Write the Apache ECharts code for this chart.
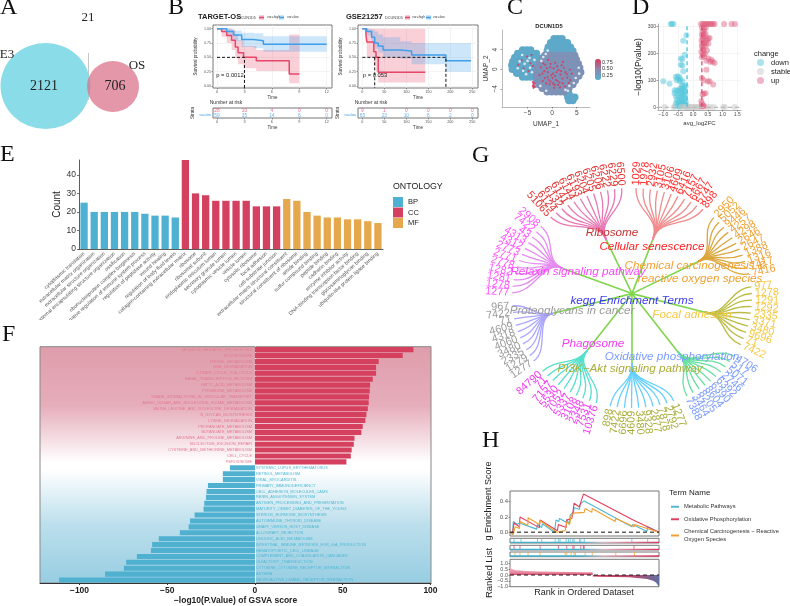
<!DOCTYPE html>
<html><head><meta charset="utf-8">
<script src="https://cdn.jsdelivr.net/npm/echarts@6/dist/echarts.min.js"></script>
<style>html,body{margin:0;padding:0;background:#fff}#c{width:790px;height:606px}</style></head>
<body><div id="c"></div>
<script>
// ---------- A: Venn
const vennSets = ['E3', 'OS'];
const vennCounts = [2121, 21, 706];
// ---------- B: survival
const km1HighT = [0, .5, 1.06, 1.6, 2, 2.3, 2.9, 4.3, 7.9, 9];
const km1HighS = [1, .95, .88, .80, .68, .58, .50, .44, .21, .21];
const km1HighLo = [1, .86, .75, .63, .48, .38, .31, .26, .05, .05];
const km1HighHi = [1, 1, 1, .98, .90, .80, .70, .63, .90, .90];
const km1LowT = [0, 1.06, 1.8, 2.7, 4, 5.07, 12];
const km1LowS = [1, .95, .89, .81, .79, .73, .73];
const km1LowLo = [1, .87, .78, .68, .66, .60, .60];
const km1LowHi = [1, 1, .97, .93, .92, .87, .87];
const km2HighT = [0, 8, 10, 26, 31, 36, 143];
const km2HighS = [1, .9, .77, .60, .50, .24, .24];
const km2HighLo = [1, .8, .5, .35, .25, .06, .06];
const km2HighHi = [1, 1, 1, 1, 1, 1, 1];
const km2LowT = [0, 10, 21, 28, 36, 47, 86, 112, 190, 247];
const km2LowS = [1, .95, .85, .75, .70, .63, .61, .54, .44, .44];
const km2LowLo = [1, .88, .76, .65, .58, .50, .48, .38, .25, .25];
const km2LowHi = [1, 1, .98, .95, .90, .85, .78, .75, .75, .75];
const km1Median = [[0, .5], [3, .5], [3, -.035]];
const km2Median = [[0, .5], [190, .5], [190, -.035]];
const km2MedianB = [[28, .5], [28, -.035]];
const km1Ticks = [0, 3, 6, 9, 12];
const km2Ticks = [0, 50, 100, 150, 200, 250];
const km1RiskHigh = [28, 10, 4, 0, 0];
const km1RiskLow = [59, 35, 14, 6, 0];
const km2RiskHigh = [9, 1, 0, 0, 0, 0];
const km2RiskLow = [65, 23, 10, 6, 2, 0];
// ---------- C: UMAP
const umapEdgeRows = [
 [6.2, .4, 1.2, 2.0], [5.4, -.3, .6, 1.5, 2.4, 3.1], [4.5, -.8, .1, 1, 1.9, 2.8, 3.7], [3.7, -1, -.1, .8, 1.7, 2.6, 3.5, 4.2],
 [3.9, -6, -5.2, -4.4], [3.2, -7, -6.2, -5.4, -4.6, -3.8, -3.2], [2.4, -7.6, -6.8, -6, -5.2, -4.4, -3.6, -2.9],
 [1.6, -8, -7.2, -6.4, -5.6, -4.8, -4, -3.2], [.8, -8.2, -7.4, -6.6, -5.8, -5, -4.2, -3.4], [0, -8.1, -7.3, -6.5, -5.7, -4.9, -4.1, -3.4],
 [-.8, -7.2, -6.4, -5.6, -4.8, -4, -3.4], [-1.6, -6, -5.2, -4.4, -3.6],
 [-5, 3, 3.4], [-5.7, 3.2, 4, 4.6], [-6.4, 3.4, 4.2]];
const umapCoreRows = [
 [2.8, -1.5, -.6, .3, 1.2, 2.1, 3, 3.9, 4.6], [2, -2, -1.1, -.2, .7, 1.6, 2.5, 3.4, 4.3, 4.9],
 [1.1, -2.6, -1.7, -.8, .1, 1, 1.9, 2.8, 3.7, 4.6, 5.3], [.3, -3, -2.1, -1.2, -.3, .6, 1.5, 2.4, 3.3, 4.2, 5.1, 5.6],
 [-.6, -3.2, -2.3, -1.4, -.5, .4, 1.3, 2.2, 3.1, 4, 4.9, 5.8], [-1.4, -3.2, -2.3, -1.4, -.5, .4, 1.3, 2.2, 3.1, 4, 4.9, 5.4],
 [-2.3, -3.1, -2.2, -1.3, -.4, .5, 1.4, 2.3, 3.2, 4.1, 4.7], [-3.1, -2.7, -1.8, -.9, 0, .9, 1.8, 2.7, 3.6, 4.2],
 [-3.9, -2, -1.1, -.2, .7, 1.6, 2.5, 3.4], [-4.6, -1, -.1, .8, 1.7, 2.5]];
const umapRed = [[-3.9, -2.6], [-3.8, -3], [-3.7, -3.4], [-3.8, -3.8], [-3.6, -2.9], [-3.9, -3.4], [-3.5, -3.6],
 [-1.6, -.4], [-.9, -1.6], [-.4, .4], [.2, -.9], [.8, -2.2], [1.3, -.2], [1.7, -1.1], [2.2, -2.9], [2.7, -.6], [3.1, -1.7], [-1.9, -2.4],
 [-.5, -3.1], [.4, -3.8], [1.2, -3.2], [1.9, .8], [.6, 1.3], [-.8, 1.9], [-2.3, .4], [3.6, -.1], [-1.2, -2.9], [.1, -1.8], [2.1, -1.9], [.9, -.6],
 [-2.6, -1.2], [-.3, -2.5], [1.5, -2.7], [2.6, -3.5], [3.7, -2.2], [-6.2, 1.8], [-5.1, 2.6], [-4.4, 1.2], [-5.8, .2], [-4.8, -.4], [-3.9, .7], [-6.9, .9], [-4.2, 2.9], [-1.4, .9], [.3, .2],
 [-2, -.9], [-1.1, .2], [.6, -1.4], [1.1, -2.4], [1.8, -.4], [2.4, .3], [3, -1], [3.4, -2.8], [-.2, -1.2], [-1.5, -1.8], [-.7, -2.2], [.2, -2.9], [1.6, -3.7], [2.2, 1.5], [1, .6], [-.3, 1.1], [-1.8, 1.2], [4, -.9], [-.9, -.6], [.5, -3.2]];
const umapLight = [[-5.6, 1.1], [-6.1, 2.9], [-5, 1.7], [-4.5, .3], [-5.3, -1], [-4.1, -.6], [-6.6, 1.6], [-3.6, 1.9], [-4.6, 2.3], [-7, .2], [-5.9, -.3],
 [-1.8, 2.5], [-1.3, 3.1], [-2.2, 1.7], [-.9, 3.8], [2.7, -4.2], [3.2, -4.4], [3.5, -3.4], [4.4, -2.8], [4.8, -1.8], [5.5, -.9], [5.4, .3], [-1.2, -4.4], [-2.4, -3.4]];
// ---------- D: volcano
const volcanoDown = [[-.75, 308], [-.71, 308], [-.66, 308], [-.22, 266], [-.33, 246], [-.28, 194], [-.41, 180], [-.36, 178], [-.41, 157], [-.36, 155], [-.33, 133], [-1.0, 96], [-.79, 87], [-.58, 112], [-.52, 115], [-.46, 112], [-.5, 105], [-.42, 103], [-.55, 100], [-.44, 96], [-.35, 95],
 [-.37, 80], [-.3, 80], [-.25, 78], [-.38, 72], [-.3, 70], [-.45, 68], [-.62, 63], [-.55, 62], [-.48, 60], [-.4, 62], [-.33, 60], [-.27, 58], [-.62, 52], [-.42, 50], [-.33, 50], [-.26, 48], [-.5, 45], [-.58, 42], [-.38, 40], [-.3, 40], [-.45, 35], [-.36, 30], [-.27, 32], [-.55, 28], [-.5, 22], [-.42, 24], [-.33, 22], [-.25, 22], [-.58, 14], [-.47, 14], [-.38, 14], [-.3, 14], [-.24, 12], [-.52, 6], [-.43, 5], [-.35, 6], [-.28, 5], [-.6, 3], [-.22, 3], [-.46, 2]];
const volcanoStable = [[-.23, 1], [-.18, 1], [-.14, 1], [-.1, 1], [-.05, 1], [0, 1], [.05, 1], [.1, 1], [.15, 1], [.2, 1], [.25, 1], [-.95, 1], [-.65, 1], [-.4, 1], [-.3, 2], [.48, 1], [.7, 1], [1.02, 1], [1.08, 1], [1.4, 1], [.58, 1]];
const volcanoUp = [[.27, 308], [.33, 308], [.38, 308], [.43, 308], [.48, 308], [.53, 308], [.58, 308], [.63, 308], [.68, 308], [.73, 308], [1.05, 308], [1.3, 308], [1.42, 308],
 [.3, 295], [.37, 292], [.43, 295], [.32, 280], [.38, 283], [.3, 268], [.36, 270], [.42, 272], [.33, 258], [.4, 262], [.29, 248], [.35, 250], [.52, 254], [.46, 250], [.56, 256], [.31, 235], [.37, 238], [.44, 240], [.52, 236], [.3, 225], [.36, 228], [.42, 226], [.33, 215], [.28, 205], [.36, 208], [.47, 210], [.33, 195], [.4, 198], [.3, 185], [.38, 188], [.45, 172], [.52, 180], [.62, 176], [.58, 168], [.73, 164], [.66, 168], [.45, 139],
 [.3, 108], [.36, 100], [.5, 95], [.56, 96], [.68, 84], [.37, 50], [.32, 48], [.42, 52], [.3, 14], [.35, 8], [.3, 3], [.37, 3], [.28, 22]];
const volcanoCutDown = [[-.2, 0], [-.2, 308]];
const volcanoCutUp = [[.3, 0], [.3, 308]];
const volcanoBase = [[-1.18, 0], [1.62, 0]];
// ---------- E: GO bars
const goTerms = ['cytoplasmic translation', 'extracellular matrix organization', 'extracellular structure organization', 'external encapsulating structure organization', 'ossification', 'ribonucleoprotein complex biogenesis', 'negative regulation of immune system process', 'regulation of peptidase activity', 'wound healing', 'regulation of body fluid levels',
 'collagen-containing extracellular matrix', 'ribosome', 'ribosomal subunit', 'endoplasmic reticulum lumen', 'secretory granule lumen', 'cytoplasmic vesicle lumen', 'vesicle lumen', 'cytosolic ribosome', 'focal adhesion', 'cell-substrate junction',
 'extracellular matrix structural constituent', 'structural constituent of ribosome', 'amide binding', 'sulfur compound binding', 'peptide binding', 'cadherin binding', 'enzyme inhibitor activity', 'DNA-binding transcription factor binding', 'glycosaminoglycan binding', 'ubiquitin-like protein ligase binding'];
const goBP = [25, 20, 20, 20, 20, 20, 19, 18, 18, 17];
const goCC = [48, 30, 29, 26, 26, 26, 26, 23, 23, 23];
const goMF = [27, 26, 20, 18, 17, 17, 16, 16, 15, 14];
const goTicks = [0, 10, 20, 30, 40];
// ---------- F: GSVA
const gsvaUpNames = ['UBIQUITIN_MEDIATED_PROTEOLYSIS', 'SPLICEOSOME', 'PURINE_METABOLISM', 'RNA_DEGRADATION', 'CITRATE_CYCLE_TCA_CYCLE', 'BASAL_TRANSCRIPTION_FACTORS', 'FATTY_ACID_METABOLISM', 'PYRIMIDINE_METABOLISM', 'SNARE_INTERACTIONS_IN_VESICULAR_TRANSPORT', 'AMINO_SUGAR_AND_NUCLEOTIDE_SUGAR_METABOLISM', 'VALINE_LEUCINE_AND_ISOLEUCINE_DEGRADATION', 'N_GLYCAN_BIOSYNTHESIS', 'LYSINE_DEGRADATION', 'PROPANOATE_METABOLISM', 'BUTANOATE_METABOLISM', 'ARGININE_AND_PROLINE_METABOLISM', 'NUCLEOTIDE_EXCISION_REPAIR', 'CYSTEINE_AND_METHIONINE_METABOLISM', 'CELL_CYCLE', 'PEROXISOME'];
const gsvaUp = [90.3, 84.2, 70.5, 69, 69, 67.1, 65.6, 65.4, 65, 64.8, 64.3, 63.5, 62.9, 61.4, 60.6, 56.7, 56.3, 55.1, 54.6, 52.1];
const gsvaDownNames = ['SYSTEMIC_LUPUS_ERYTHEMATOSUS', 'RETINOL_METABOLISM', 'VIRAL_MYOCARDITIS', 'PRIMARY_IMMUNODEFICIENCY', 'CELL_ADHESION_MOLECULES_CAMS', 'RENIN_ANGIOTENSIN_SYSTEM', 'ANTIGEN_PROCESSING_AND_PRESENTATION', 'MATURITY_ONSET_DIABETES_OF_THE_YOUNG', 'STEROID_HORMONE_BIOSYNTHESIS', 'AUTOIMMUNE_THYROID_DISEASE', 'GRAFT_VERSUS_HOST_DISEASE', 'ALLOGRAFT_REJECTION', 'LINOLEIC_ACID_METABOLISM', 'INTESTINAL_IMMUNE_NETWORK_FOR_IGA_PRODUCTION', 'HEMATOPOIETIC_CELL_LINEAGE', 'COMPLEMENT_AND_COAGULATION_CASCADES', 'OLFACTORY_TRANSDUCTION', 'CYTOKINE_CYTOKINE_RECEPTOR_INTERACTION', 'ASTHMA', 'NEUROACTIVE_LIGAND_RECEPTOR_INTERACTION'];
const gsvaDown = [-14.3, -18.3, -18.3, -26.8, -27.6, -27.9, -28.9, -29.3, -34.4, -37, -37.8, -42.8, -54.8, -58.6, -59.3, -67.3, -73.4, -74.7, -85.4, -111.6];
const gsvaTicks = [-100, -50, 0, 50, 100];
// ---------- G: KEGG dendrogram
const pathwayNames = ['Cellular senescence', 'Chemical carcinogenesis', 'Focal adhesion', 'Oxidative phosphorylation', 'PI3K-Akt signaling pathway', 'Phagosome', 'Proteoglycans in cancer', 'Relaxin signaling pathway', 'Ribosome'];
const pathwayAngle = [18, 59, 102, 142, 180, 218, 258, 295, 338];
const pathwayRadius = [.56, .64, .62, .62, .59, .6, .67, .635, .57];
const pathwayGenes = [
 ['1029', '1978', '2932', '3105', '3106', '4609', '6416', '7157', '6667', '5747', '898'],
 ['2950', '5052', '9446', '4257', '4298', '2646', '2647', '1388', '1316', '7417', '7416'],
 ['977', '1278', '1291', '1292', '2335', '3371', '3480', '9696', '71', '7422'],
 ['4706', '517', '5071', '2746', '6392', '6390', '8604', '8205', '3464', '7388'],
 ['1277', '2792', '7878', '2877', '9328', '3480', '4609', '6696', '7422', '898'],
 ['10376', '7531', '2348', '3108', '5337', '7052', '5530', '7157', '71', '84790'],
 ['1277', '1279', '2335', '3480', '4060', '4318', '4609', '71', '7422', '967'],
 ['1277', '1278', '1281', '1282', '2778', '2771', '2773', '4312', '4313', '43', '7422', '2908'],
 ['51065', '6124', '6132', '6141', '6144', '6193', '6204', '6205', '6206', '6222', '6229', '6500']];
// ---------- H: GSEA
const esMetabolic = [[0, 0], [1.8, -.03], [2.2, .14], [4.9, .10], [6.3, .12], [17.9, .04], [18.4, .10], [21.3, .06], [21.7, .11], [29.8, 0], [30.9, .16], [32.7, .14], [33.2, .18], [37.7, .13], [38.1, .17], [39.9, .10], [40.4, .23], [42.6, .26], [43, .32], [46.6, .30], [47.1, .37], [49.8, .41], [81.8, .07], [82.3, .10], [91.9, .01], [92.4, .07], [100, 0]];
const esOxidative = [[0, 0], [1.8, 0], [2.7, .12], [6.3, .07], [6.7, .20], [19.7, .06], [20.2, .16], [31.8, .02], [32.5, .10], [37.7, .06], [38.1, .16], [41.5, .18], [42.2, .26], [43, .38], [46.6, .33], [47.5, .39], [49.3, .50], [49.8, .52], [82.7, .16], [83.2, .17], [100, 0]];
const esChemical = [[0, 0], [2.2, -.03], [3.4, .07], [6.3, .05], [6.7, .14], [12, .09], [12.1, .19], [19.7, .10], [20.2, .15], [31.4, 0], [37, .02], [38.1, .14], [40, .10], [41, .22], [43, .25], [44, .27], [49.8, .26], [50.4, .31], [54.9, .26], [55.2, .31], [70.6, .14], [71, .18], [83.2, .07], [83.6, .10], [100, 0]];
const rugMetabolic = [2.7, 7.4, 18.4, 21.3, 30.3, 32.7, 33.6, 37.7, 39.2, 40.4, 42.2, 43, 46.6, 47.5, 49.8, 81.8, 92.4];
const rugOxidative = [2.7, 6.7, 20.2, 32.5, 38.1, 42.2, 43, 47.5, 49.3, 49.8, 83.2];
const rugChemical = [3.4, 6.7, 12.1, 20.2, 37, 38.1, 41, 43, 44, 50.4, 55.2, 71, 83.6];
const rankUp = [[0, .75], [.5, .65], [1, .55], [2, .47], [4, .42], [7, .38], [10, .35], [15, .32], [20, .30], [30, .28], [40, .26], [50, .25], [55.5, .25]];
const rankDown = [[55.6, -.12], [60, -.14], [70, -.16], [80, -.2], [87, -.27], [92, -.35], [96, -.5], [98, -.65], [100, -1]];
const rankTicks = [-1, -.5, 0, .5, 1];

// ---------------- build ----------------
const SANS = '"Liberation Sans"', SERIF = '"Liberation Serif"';
const RED = '#e8476a', BLUE = '#419fea';
const grids = [], xAxes = [], yAxes = [], series = [], graphics = [];
function addGrid(rect, x, y) {
  const i = grids.length;
  grids.push(Object.assign({ containLabel: false }, rect));
  xAxes.push(Object.assign({ gridIndex: i }, x));
  yAxes.push(Object.assign({ gridIndex: i }, y));
  return i;
}
function vAxis(min, max, ticks, fs, color, extra) {
  return Object.assign({
    type: 'value', min, max,
    axisTick: { show: true, customValues: ticks, length: 1.5, lineStyle: { color: '#555', width: .6 } },
    axisLabel: { customValues: ticks, fontSize: fs, color, margin: 2 },
    splitLine: { show: false },
    axisLine: { show: false, onZero: false }
  }, extra || {});
}
const hidden = (min, max) => ({ type: 'value', min, max, show: false, splitLine: { show: false } });
function txt(x, y, text, fs, o) {
  o = o || {};
  graphics.push({
    type: 'text', x, y, rotation: o.rot || 0, z: 100,
    style: { text, fill: o.color || '#222', font: `${o.style || ''} ${o.weight || ''} ${fs}px ${o.family || SANS}`, textAlign: o.align || 'center', textVerticalAlign: 'middle' }
  });
}
function swatch(x, y, w, h, fill) { graphics.push({ type: 'rect', z: 100, shape: { x, y, width: w, height: h }, style: { fill } }); }

// panel letters
[['A', 0, 8], ['B', 168, 8], ['C', 507, 8], ['D', 632, 8], ['E', 0, 155], ['F', 2, 335], ['G', 472, 156], ['H', 482, 441]]
  .forEach(p => txt(p[1], p[2], p[0], 24, { family: SERIF, align: 'left', color: '#111' }));

// A
const gV = addGrid({ left: 0, top: 30, width: 150, height: 110 }, hidden(0, 150), hidden(0, 110));
series.push({ type: 'scatter', xAxisIndex: gV, yAxisIndex: gV, symbolSize: [90, 86], data: [[45.5, 54]], itemStyle: { color: '#8adde8', opacity: 1 }, silent: true, z: 2 });
series.push({ type: 'scatter', xAxisIndex: gV, yAxisIndex: gV, symbolSize: [52, 51], data: [[113, 53.5]], itemStyle: { color: '#d96f88', opacity: .72 }, silent: true, z: 3 });
series.push({ type: 'line', xAxisIndex: gV, yAxisIndex: gV, data: [[88.5, 87], [88.5, 40]], symbol: 'none', lineStyle: { color: '#c8c8c8', width: 1 }, silent: true, z: 1 });
txt(88, 18, String(vennCounts[1]), 13, { family: SERIF });
txt(7, 55, vennSets[0], 13, { family: SERIF });
txt(137, 66, vennSets[1], 13, { family: SERIF });
txt(44, 86, String(vennCounts[0]), 14, { family: SERIF });
txt(115, 86, String(vennCounts[2]), 14, { family: SERIF });

// B
function band(g, t, lo, hi, color) {
  series.push({
    type: 'custom', xAxisIndex: g, yAxisIndex: g, coordinateSystem: 'cartesian2d', silent: true, z: 2,
    data: t.map((x, i) => [x, lo[i], hi[i]]),
    renderItem(params, api) {
      if (params.dataIndex !== 0) return null;
      const pts = [];
      t.forEach((x, i) => { if (i) pts.push(api.coord([x, hi[i - 1]])); pts.push(api.coord([x, hi[i]])); });
      for (let i = t.length - 1; i >= 0; i--) { pts.push(api.coord([t[i], lo[i]])); if (i) pts.push(api.coord([t[i], lo[i - 1]])); }
      return { type: 'polygon', shape: { points: pts }, style: { fill: color, opacity: .26 } };
    }
  });
}
function stepLine(g, t, s, color) {
  series.push({ type: 'line', xAxisIndex: g, yAxisIndex: g, step: 'end', symbol: 'none', silent: true, z: 4, lineStyle: { color, width: 1.5 }, data: t.map((x, i) => [x, s[i]]) });
}
function dashLine(g, d) {
  series.push({ type: 'line', xAxisIndex: g, yAxisIndex: g, symbol: 'none', silent: true, z: 5, lineStyle: { color: '#111', width: 1, type: [3, 2] }, data: d });
}
function kmPanel(left, width, xmin, xmax, ticks, risk) {
  const frame = { show: true, borderColor: '#777', borderWidth: 1, backgroundColor: 'transparent' };
  const split = { show: true, lineStyle: { color: '#ececec', width: .6 } };
  const g = addGrid(Object.assign({ left, width, top: 25, height: 63 }, frame),
    vAxis(xmin, xmax, ticks, 3.8, '#555', { splitLine: split, name: 'Time', nameLocation: 'middle', nameGap: 7, nameTextStyle: { fontSize: 4.5, color: '#333' } }),
    vAxis(-.035, 1.065, [0, .25, .5, .75, 1], 3.6, '#555', { splitLine: split, axisLabel: { customValues: [0, .25, .5, .75, 1], fontSize: 3.6, color: '#555', margin: 2, formatter: v => v.toFixed(2) }, name: 'Survival probability', nameLocation: 'middle', nameGap: 15, nameTextStyle: { fontSize: 4.5, color: '#333' } }));
  const t = addGrid(Object.assign({ left, width, top: 108, height: 10 }, frame),
    vAxis(xmin, xmax, ticks, 3.8, '#555', { name: 'Time', nameLocation: 'middle', nameGap: 7, nameTextStyle: { fontSize: 4.5, color: '#333' } }),
    { type: 'category', data: ['var=low', 'var=high'], axisLine: { show: false }, axisTick: { length: 1.5, lineStyle: { color: '#555', width: .6 } }, axisLabel: { fontSize: 3.4, margin: 2, color: v => (v === 'var=high' ? RED : BLUE) }, name: 'Strata', nameLocation: 'middle', nameGap: 14, nameTextStyle: { fontSize: 4.5, color: '#333' } });
  [['var=high', risk[0], RED], ['var=low', risk[1], BLUE]].forEach(r => {
    series.push({ type: 'scatter', xAxisIndex: t, yAxisIndex: t, symbolSize: 0, silent: true, data: ticks.map((x, i) => [x, r[0], r[1][i]]),
      label: { show: true, position: 'inside', formatter: p => String(p.value[2]), fontSize: 4.8, color: r[2] } });
  });
  txt(left + 13, 103, 'Number at risk', 5, { color: '#333' });
  return g;
}
const k1 = kmPanel(213, 119, -.44, 12.58, km1Ticks, [km1RiskHigh, km1RiskLow]);
const k2 = kmPanel(358, 120, -10, 263, km2Ticks, [km2RiskHigh, km2RiskLow]);
band(k1, km1HighT, km1HighLo, km1HighHi, RED);
band(k1, km1LowT, km1LowLo, km1LowHi, BLUE);
band(k2, km2HighT, km2HighLo, km2HighHi, RED);
band(k2, km2LowT, km2LowLo, km2LowHi, BLUE);
stepLine(k1, km1HighT, km1HighS, RED); stepLine(k1, km1LowT, km1LowS, BLUE);
stepLine(k2, km2HighT, km2HighS, RED); stepLine(k2, km2LowT, km2LowS, BLUE);
dashLine(k1, km1Median); dashLine(k2, km2Median); dashLine(k2, km2MedianB);
txt(230, 75, 'p = 0.0012', 5.8, { color: '#222' });
txt(375, 75, 'p = 0.053', 5.8, { color: '#222' });
txt(198, 17, 'TARGET-OS', 7.5, { weight: 'bold', align: 'left' });
txt(346, 17, 'GSE21257', 7.5, { weight: 'bold', align: 'left' });
[[238, 259, 267, 279, 287], [385, 405, 412, 426, 433]].forEach(p => {
  txt(p[0], 17.5, 'DCUN1D5', 3.8, { align: 'left', color: '#444' });
  swatch(p[1], 15.5, 5, 4, '#f0a0b4'); swatch(p[3], 15.5, 5, 4, '#9cd0f4');
  graphics.push({ type: 'line', z: 101, shape: { x1: p[1], y1: 17.5, x2: p[1] + 5, y2: 17.5 }, style: { stroke: RED, lineWidth: 1 } });
  graphics.push({ type: 'line', z: 101, shape: { x1: p[3], y1: 17.5, x2: p[3] + 5, y2: 17.5 }, style: { stroke: BLUE, lineWidth: 1 } });
  txt(p[2], 17.5, 'var=high', 3.4, { align: 'left', color: '#444' });
  txt(p[4], 17.5, 'var=low', 3.4, { align: 'left', color: '#444' });
});

// C
const gU = addGrid({ left: 502, top: 30, width: 88, height: 77 },
  vAxis(-10.2, 7.7, [-5, 0, 5], 6.5, '#444', { axisLine: { show: true, onZero: false, lineStyle: { color: '#bbb', width: 1 } }, name: 'UMAP_1', nameLocation: 'middle', nameGap: 14, nameTextStyle: { fontSize: 6.5, color: '#333' }, axisLabel: { customValues: [-5, 0, 5], fontSize: 6.5, color: '#444', margin: 3, formatter: v => String(v).replace('-', '−') } }),
  vAxis(-7.7, 8, [-4, 0, 4], 6.5, '#444', { axisLine: { show: true, onZero: false, lineStyle: { color: '#bbb', width: 1 } }, name: 'UMAP_2', nameLocation: 'middle', nameGap: 12, nameTextStyle: { fontSize: 6.5, color: '#333' }, axisLabel: { customValues: [-4, 0, 4], fontSize: 6.5, color: '#444', margin: 3, rotate: 90, formatter: v => String(v).replace('-', '−') } }));
const rowsToPoints = (rows, v) => rows.flatMap(r => r.slice(1).map(x => [x, r[0], v]));
const umapSeriesIdx = series.length;
series.push({ type: 'scatter', xAxisIndex: gU, yAxisIndex: gU, symbolSize: 7.5, silent: true, z: 2, itemStyle: { opacity: 1 }, data: rowsToPoints(umapEdgeRows, .27).concat(rowsToPoints(umapCoreRows, .42)) });
series.push({ type: 'scatter', xAxisIndex: gU, yAxisIndex: gU, symbolSize: 2.2, silent: true, z: 3, itemStyle: { opacity: .95 }, data: umapRed.map(p => [p[0], p[1], .75]) });
series.push({ type: 'scatter', xAxisIndex: gU, yAxisIndex: gU, symbolSize: 2.6, silent: true, z: 3, itemStyle: { color: '#e6ebf0', opacity: .95 }, data: umapLight });
txt(549, 26, 'DCUN1D5', 5.8, { weight: 'bold' });
txt(602, 62.5, '0.75', 5.5, { align: 'left', color: '#333' });
txt(602, 68.7, '0.50', 5.5, { align: 'left', color: '#333' });
txt(602, 75, '0.25', 5.5, { align: 'left', color: '#333' });

// D
const minusFmt1 = v => v.toFixed(1).replace('-', '−');
const gD = addGrid({ left: 658, top: 24, width: 83, height: 86 },
  vAxis(-1.18, 1.62, [-1, -.5, 0, .5, 1, 1.5], 4.8, '#444', { splitLine: { show: true, lineStyle: { color: '#eee', width: .6 } }, axisLine: { show: true, onZero: false, lineStyle: { color: '#999', width: .8 } }, axisLabel: { customValues: [-1, -.5, 0, .5, 1, 1.5], fontSize: 4.8, color: '#444', margin: 2, formatter: minusFmt1 }, name: 'avg_log2FC', nameLocation: 'middle', nameGap: 10, nameTextStyle: { fontSize: 6, color: '#333' } }),
  vAxis(-10, 308, [0, 100, 200, 300], 5, '#444', { splitLine: { show: true, lineStyle: { color: '#eee', width: .6 } }, axisLine: { show: true, onZero: false, lineStyle: { color: '#999', width: .8 } }, name: '−log10(Pvalue)', nameLocation: 'middle', nameGap: 15, nameTextStyle: { fontSize: 8.5, color: '#222' } }));
[['down', volcanoDown, '#55c8dc', .5], ['stable', volcanoStable, '#c9c9c9', .5], ['up', volcanoUp, '#de5c7c', .45]].forEach(s => {
  series.push({ name: s[0], type: 'scatter', xAxisIndex: gD, yAxisIndex: gD, symbolSize: 6, silent: true, z: 2, clip: false, data: s[1], itemStyle: { color: s[2], opacity: s[3] } });
});
[[volcanoCutDown, '#44c4dc'], [volcanoCutUp, '#e0486c'], [volcanoBase, '#bbb']].forEach(l => {
  series.push({ type: 'line', xAxisIndex: gD, yAxisIndex: gD, symbol: 'none', silent: true, z: 3, data: l[0], lineStyle: { color: l[1], width: 1.3, type: [4, 3] } });
});
txt(754, 53.5, 'change', 7.5, { align: 'left' });

// E
const gE = addGrid({ left: 79, top: 160, width: 304, height: 89 },
  { type: 'category', data: goTerms, axisLine: { lineStyle: { color: '#333', width: .8 } }, axisTick: { alignWithLabel: true, length: 2, lineStyle: { color: '#333', width: .7 } }, axisLabel: { interval: 0, rotate: 42, fontSize: 5.2, color: '#555', margin: 4 } },
  vAxis(0, 48, goTicks, 8.5, '#333', { axisLine: { show: true, onZero: false, lineStyle: { color: '#333', width: .8 } }, axisTick: { show: true, customValues: goTicks, length: 2, lineStyle: { color: '#333', width: .7 } }, axisLabel: { customValues: goTicks, fontSize: 8.5, color: '#333', margin: 3 }, name: 'Count', nameLocation: 'middle', nameGap: 15, nameTextStyle: { fontSize: 10, color: '#222' } }));
const nulls = n => new Array(n).fill(null);
[['BP', goBP.concat(nulls(20)), '#4eb1d1'], ['CC', nulls(10).concat(goCC, nulls(10)), '#d4405f'], ['MF', nulls(20).concat(goMF), '#e5a84c']].forEach(s => {
  series.push({ name: s[0], type: 'bar', xAxisIndex: gE, yAxisIndex: gE, stack: 'go', barCategoryGap: '28%', silent: true, data: s[1], itemStyle: { color: s[2] } });
});
txt(393, 187, 'ONTOLOGY', 8.8, { align: 'left' });
graphics.push({ type: 'rect', z: 50, shape: { x: 0, y: 320, width: 450, height: 14 }, style: { fill: '#fff' } });

// F
const gF = addGrid({ left: 40, top: 346.7, width: 391, height: 240, show: true, borderColor: '#888', borderWidth: 1,
    backgroundColor: new echarts.graphic.LinearGradient(0, 0, 0, 1, [{ offset: 0, color: '#df9dab' }, { offset: .25, color: '#e6adbb' }, { offset: .49, color: '#ffffff' }, { offset: .52, color: '#ffffff' }, { offset: .75, color: '#bcdfec' }, { offset: 1, color: '#97cde2' }]) },
  vAxis(-122.5, 100.3, gsvaTicks, 8.5, '#222', { axisLine: { show: true, onZero: false, lineStyle: { color: '#333', width: 1 } }, axisTick: { show: true, customValues: gsvaTicks, length: 2, lineStyle: { color: '#333' } }, axisLabel: { customValues: gsvaTicks, fontSize: 8.5, fontWeight: 'bold', color: '#222', margin: 3, formatter: v => String(v).replace('-', '−') }, name: '−log10(P.Value) of GSVA score', nameLocation: 'middle', nameGap: 13, nameTextStyle: { fontSize: 8.5, fontWeight: 'bold', color: '#222' } }),
  { type: 'category', inverse: true, data: gsvaUpNames.concat(gsvaDownNames), axisLabel: { show: false }, axisLine: { show: true, onZero: true, lineStyle: { color: '#fff', width: .8 } }, axisTick: { show: false } });
series.push({ type: 'bar', xAxisIndex: gF, yAxisIndex: gF, stack: 'g', barCategoryGap: '14%', silent: true, z: 2, data: gsvaUp.concat(nulls(20)), itemStyle: { color: '#d5405f' },
  label: { show: true, position: 'left', distance: 3, fontSize: 3.9, color: '#e27a92', formatter: p => p.name } });
series.push({ type: 'bar', xAxisIndex: gF, yAxisIndex: gF, stack: 'g', barCategoryGap: '14%', silent: true, z: 2, data: nulls(20).concat(gsvaDown), itemStyle: { color: '#4fb0d0' },
  label: { show: true, position: 'right', distance: 1, fontSize: 3.9, color: '#4fb8d4', formatter: p => p.name } });

// G
const gT = addGrid({ left: 512, top: 188, width: 240, height: 220 }, hidden(-1, 1), hidden(-1, 1));
const lineColors = ['#f08c8c', '#dba63c', '#bcbc46', '#66e0a0', '#66d0ff', '#55e0cc', '#aaa6ff', '#e48cf0', '#e878b4'];
const labelColors = ['#ff2a2a', '#f0a030', '#f5c842', '#7a9cff', '#a8ad3a', '#f03cf0', '#9a9a9a', '#ff55ff', '#e03030'];
const nLeaves = pathwayGenes.reduce((a, g) => a + g.length, 0);
const leafStep = 360 / (nLeaves + pathwayGenes.length);
let cursor = -1.5, treeRows = [];
pathwayGenes.forEach((g, gi) => {
  g.forEach((id, li) => { cursor += leafStep; treeRows.push([gi, cursor, li]); });
  cursor += leafStep;
});
const pol = (deg, r) => { const a = deg * Math.PI / 180; return [r * Math.sin(a), r * Math.cos(a)]; };
const rootPoint = [0, .04];
series.push({
  type: 'custom', xAxisIndex: gT, yAxisIndex: gT, coordinateSystem: 'cartesian2d', clip: false, silent: true, z: 3, data: pathwayNames.map((n, i) => [i, 0]),
  renderItem(params, api) {
    const i = api.value(0), a = api.coord(rootPoint), b = api.coord(pol(pathwayAngle[i], pathwayRadius[i]));
    return { type: 'line', shape: { x1: a[0], y1: a[1], x2: b[0], y2: b[1] }, style: { stroke: '#7fd64c', lineWidth: 1.6 } };
  }
});
series.push({
  type: 'custom', xAxisIndex: gT, yAxisIndex: gT, coordinateSystem: 'cartesian2d', clip: false, silent: true, z: 4, data: treeRows,
  renderItem(params, api) {
    const gi = api.value(0), deg = api.value(1), li = api.value(2);
    const rn = pathwayRadius[gi], an = pathwayAngle[gi], rm = (rn + 1) / 2;
    const p0 = api.coord(pol(an, rn)), c1 = api.coord(pol(an, rm)), c2 = api.coord(pol(deg, rm)), p1 = api.coord(pol(deg, 1)), pl = api.coord(pol(deg, 1.025));
    const right = deg <= 180;
    const rot = (right ? 90 - deg : 270 - deg) * Math.PI / 180;
    return { type: 'group', children: [
      { type: 'bezierCurve', shape: { x1: p0[0], y1: p0[1], cpx1: c1[0], cpy1: c1[1], cpx2: c2[0], cpy2: c2[1], x2: p1[0], y2: p1[1] }, style: { stroke: lineColors[gi], fill: null, lineWidth: 1.3 } },
      { type: 'text', x: pl[0], y: pl[1], rotation: rot, style: { text: pathwayGenes[gi][li], fill: labelColors[gi], font: '10.8px ' + SANS, textAlign: right ? 'left' : 'right', textVerticalAlign: 'middle' } }
    ] };
  }
});
txt(612, 233, pathwayNames[8], 11.7, { style: 'italic', color: '#c83232' });
txt(652, 247, pathwayNames[0], 11.7, { style: 'italic', color: '#ff2020' });
txt(695, 266, pathwayNames[1] + ' &', 11.7, { style: 'italic', color: '#f0a030' });
txt(695, 279, '− reactive oxygen species', 11.7, { style: 'italic', color: '#f0a030' });
txt(692, 315, pathwayNames[2], 11.7, { style: 'italic', color: '#f5c842' });
txt(672, 357, pathwayNames[3], 11.7, { style: 'italic', color: '#7a9cff' });
txt(630, 369, 'PI3K−Akt signaling pathway', 11.7, { style: 'italic', color: '#a8ad3a' });
txt(593, 344, pathwayNames[5], 11.7, { style: 'italic', color: '#f03cf0' });
txt(572, 311, pathwayNames[6], 11.7, { style: 'italic', color: '#9a9a9a' });
txt(578, 272, pathwayNames[7], 11.7, { style: 'italic', color: '#ff44ff' });
txt(632, 301, 'kegg Enrichment Terms', 11.7, { style: 'italic', color: '#3a3af0' });

// H
const hColors = ['#4fb8d4', '#e0405f', '#f0a030'];
const hFrame = { show: true, borderColor: '#777', borderWidth: 1, backgroundColor: 'transparent' };
const gES = addGrid(Object.assign({ left: 510, top: 491, width: 149, height: 45 }, hFrame),
  { type: 'value', min: 0, max: 100, show: false, splitLine: { show: false } },
  vAxis(-.05, .54, [0, .2, .4], 6, '#555', { axisLabel: { customValues: [0, .2, .4], fontSize: 6, color: '#555', margin: 2, formatter: v => v.toFixed(1) } }));
[['Metabolic Pathways', esMetabolic], ['Oxidative Phosphorylation', esOxidative], ['Chemical Carcinogenesis − Reactive Oxygen Species', esChemical]].forEach((s, i) => {
  series.push({ name: s[0], type: 'line', xAxisIndex: gES, yAxisIndex: gES, symbol: 'none', silent: true, z: 3, data: s[1], lineStyle: { color: hColors[i], width: 1.1 }, itemStyle: { color: hColors[i] } });
});
series.push({ type: 'line', xAxisIndex: gES, yAxisIndex: gES, symbol: 'none', silent: true, z: 4, data: [[0, 0], [100, 0]], lineStyle: { color: '#111', width: 1, type: [4, 3] } });
[[538.3, rugMetabolic, hColors[0]], [545.3, rugOxidative, hColors[1]], [552, rugChemical, hColors[2]]].forEach(s => {
  const g = addGrid(Object.assign({ left: 510, top: s[0], width: 149, height: 4.7 }, hFrame), { type: 'value', min: 0, max: 100, show: false, splitLine: { show: false } }, hidden(0, 1));
  series.push({ type: 'scatter', xAxisIndex: g, yAxisIndex: g, symbol: 'rect', symbolSize: [.9, 4], silent: true, data: s[1].map(x => [x, .55]), itemStyle: { color: s[2] } });
  series.push({ type: 'line', xAxisIndex: g, yAxisIndex: g, symbol: 'none', silent: true, data: [[0, .14], [100, .14]],
    lineStyle: { width: 1.4, color: new echarts.graphic.LinearGradient(0, 0, 1, 0, [{ offset: 0, color: '#3fb0cc' }, { offset: .48, color: '#3fb0cc' }, { offset: .62, color: '#d8b8c4' }, { offset: 1, color: '#d83058' }]) } });
});
const gR = addGrid(Object.assign({ left: 510, top: 559.3, width: 149, height: 27.4 }, hFrame),
  { type: 'value', min: 0, max: 100, show: false, splitLine: { show: false } },
  vAxis(-1, 1.35, rankTicks, 5.5, '#555', { axisLabel: { customValues: rankTicks, fontSize: 5.5, color: '#555', margin: 2, formatter: minusFmt1 } }));
series.push({ type: 'line', xAxisIndex: gR, yAxisIndex: gR, symbol: 'none', silent: true, z: 2, data: rankUp, lineStyle: { width: 0 }, areaStyle: { opacity: 1, color: new echarts.graphic.LinearGradient(0, 0, 0, 1, [{ offset: 0, color: '#f2c9d2' }, { offset: .7, color: '#e68aa0' }, { offset: 1, color: '#d8486a' }]) } });
series.push({ type: 'line', xAxisIndex: gR, yAxisIndex: gR, symbol: 'none', silent: true, z: 2, data: rankDown, lineStyle: { width: 0 }, areaStyle: { opacity: 1, color: new echarts.graphic.LinearGradient(0, 0, 1, 0, [{ offset: 0, color: '#d03a5c' }, { offset: .6, color: '#b8486c' }, { offset: 1, color: '#6070a0' }]) } });
series.push({ type: 'line', xAxisIndex: gR, yAxisIndex: gR, symbol: 'none', silent: true, z: 4, data: [[0, 0], [100, 0]], lineStyle: { color: '#222', width: 1, type: [4, 3] } });
txt(489, 501, 'g Enrichment Score', 9, { rot: Math.PI / 2, color: '#222' });
txt(489, 573, 'Ranked List', 9.5, { rot: Math.PI / 2, color: '#222' });
txt(584, 593, 'Rank in Ordered Dataset', 9, { color: '#222' });
txt(669, 493, 'Term Name', 8, { align: 'left', color: '#222' });

const legendBase = { selectedMode: false, orient: 'vertical', padding: 0 };
const option = {
  animation: false,
  backgroundColor: '#fff',
  textStyle: { fontFamily: SANS },
  grid: grids, xAxis: xAxes, yAxis: yAxes, series,
  visualMap: [{ type: 'continuous', seriesIndex: [umapSeriesIdx, umapSeriesIdx + 1], dimension: 2, min: .2, max: .8, calculable: false, left: 595, top: 59, itemWidth: 6, itemHeight: 21, text: ['', ''], showLabel: false, inRange: { color: ['#4fb3d3', '#8f86ad', '#d8385a'] }, padding: 0 }],
  legend: [
    Object.assign({}, legendBase, { left: 757, top: 58.5, itemWidth: 7, itemHeight: 7, itemGap: 1, icon: 'circle', data: ['down', 'stable', 'up'], textStyle: { fontSize: 7.5, color: '#222', padding: [0, 0, 0, 2] } }),
    Object.assign({}, legendBase, { left: 393, top: 197, itemWidth: 10, itemHeight: 10, itemGap: .5, icon: 'rect', data: ['BP', 'CC', 'MF'], textStyle: { fontSize: 7.5, color: '#222' } }),
    Object.assign({}, legendBase, { left: 671, top: 503, itemWidth: 8, itemHeight: 2, itemGap: 5, icon: 'rect', data: ['Metabolic Pathways', 'Oxidative Phosphorylation', 'Chemical Carcinogenesis − Reactive Oxygen Species'],
      formatter: n => n.replace('Reactive Oxygen', 'Reactive\nOxygen'), textStyle: { fontSize: 5.8, color: '#333', lineHeight: 7.5 } })
  ],
  graphic: { elements: graphics }
};
const chart = echarts.init(document.getElementById('c'), null, { renderer: 'canvas' });
chart.setOption(option);
</script></body></html>
